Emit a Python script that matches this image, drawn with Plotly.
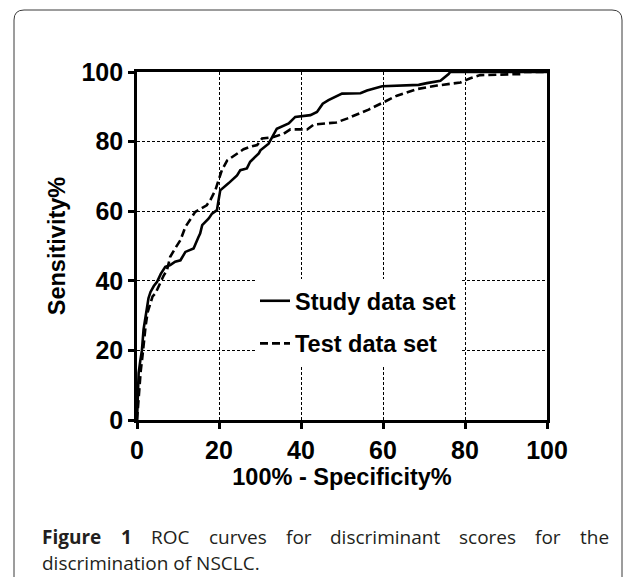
import plotly.graph_objects as go

# ---- data ----
study_fpr = [0, 0.1, 0.2, 0.4, 0.8, 1.2, 1.6, 2.2, 2.8, 3.3, 4.1, 4.9, 5.8, 6.9, 8.1, 9.3, 10.6,
             11.8, 13.8, 15.0, 15.4, 15.9, 17.5, 18.3, 19.5, 19.9, 20.3, 22.3, 24.4, 25.2, 26.8,
             27.6, 29.7, 30.1, 32.1, 34.1, 37.0, 38.6, 42.3, 43.9, 45.3, 46.7, 50.0, 54.5, 56.1,
             59.8, 68.7, 70.7, 74.0, 76.0, 76.4, 100]
study_tpr = [0, 5, 10.6, 13.5, 17, 20, 26, 30, 35, 36.8, 38.5, 39.7, 42, 44, 44.5, 45.5, 45.9,
             48.3, 49.3, 52.6, 53.6, 56, 57.9, 59.3, 60.3, 63.2, 66, 68, 70.3, 71.8, 72.3,
             74.2, 76.6, 77.5, 79.4, 83.7, 85.2, 87.1, 87.6, 88.5, 90.9, 91.9, 93.8, 93.9, 94.7,
             95.9, 96.3, 96.8, 97.5, 99.4, 100, 100]

test_fpr = [0, 0.3, 0.6, 0.9, 1.3, 1.6, 2.1, 2.6, 3.2, 3.8, 4.5, 5.7, 6.5, 7.3, 8.1, 9.3, 10.6,
            11.8, 14.2, 17.0, 17.9, 19.1, 19.9, 20.7, 22.0, 24.4, 26.0, 27.6, 29.3, 30.5, 33.3,
            35.8, 37.4, 41.5, 43.1, 48.6, 51.2, 56.5, 59.8, 63.4, 68.3, 73.2, 78.9, 81.3, 83.7,
            93.8, 94.5, 100]
test_tpr = [0, 5, 10, 14, 18, 22, 27, 31, 33.5, 35.5, 36.4, 39.7, 41.5, 43, 46.9, 49.3, 51.7,
            55.5, 59.8, 61.7, 63.2, 66, 68.9, 71.8, 74.6, 76.6, 77.8, 78.5, 79, 80.9, 81.3,
            82.3, 83.5, 83.5, 84.9, 85.5, 86.6, 89.2, 91.1, 93.2, 95.1, 96.1, 97, 98.2, 99.1,
            99.4, 100, 100]

series_names = ["Study data set", "Test data set"]
axis_ticks = [0, 20, 40, 60, 80, 100]
caption_line1 = [("Figure", True), ("1", True), ("ROC", False), ("curves", False), ("for", False),
                 ("discriminant", False), ("scores", False), ("for", False), ("the", False)]
caption_line2 = "discrimination of NSCLC."

# page body has an 8px margin, so figure pixel = screen pixel - 8
OFF = 8
W, H = 633 - OFF, 577 - OFF
L, R, T, B = 137 - OFF, 547 - OFF, 72 - OFF, 420 - OFF


def px(x):
    """screen pixel x -> paper coordinate"""
    return (x - OFF - L) / (R - L)


def py(y):
    """screen pixel y -> paper coordinate"""
    return (B - (y - OFF)) / (B - T)


fig = go.Figure()
fig.add_trace(go.Scatter(x=study_fpr, y=study_tpr, mode="lines", name=series_names[0],
                         legendgroup="a",
                         line=dict(color="black", width=2.6)))
fig.add_trace(go.Scatter(x=test_fpr, y=test_tpr, mode="lines", name=series_names[1],
                         legendgroup="b",
                         line=dict(color="black", width=2.6, dash="8px,4px")))

tickfont = dict(family="Liberation Sans, Arial", size=25, color="black", weight="bold")
titlefont = dict(family="Liberation Sans, Arial", size=23.5, color="black", weight="bold")

axis_common = dict(
    range=[0, 100], tickvals=axis_ticks, ticktext=[str(v) for v in axis_ticks],
    showline=True, linecolor="black", linewidth=2.6, mirror=True,
    ticks="outside", ticklen=6, tickwidth=2.6, tickcolor="black",
    showgrid=True, gridcolor="black", gridwidth=1, griddash="3px,2px",
    zeroline=False, tickfont=tickfont,
)

fig.update_layout(
    width=W, height=H, autosize=False,
    margin=dict(l=L, r=W - R, t=T, b=H - B),
    paper_bgcolor="white", plot_bgcolor="white",
    xaxis=dict(axis_common, title=dict(text="100% - Specificity%", font=titlefont, standoff=5)),
    yaxis=dict(axis_common, title=dict(text="Sensitivity%", font=titlefont, standoff=10)),
    showlegend=True,
    legend=dict(x=px(255), y=py(279), xanchor="left", yanchor="top",
                bgcolor="white", borderwidth=0, tracegroupgap=9,
                traceorder="grouped",
                font=dict(family="Liberation Sans, Arial", size=23.5, color="black", weight="bold")),
)

# rounded frame around the figure panel
rx, ry = 10 / (R - L), 10 / (B - T)
x0, x1, y0, y1 = px(14), px(622), py(10), py(600)
path = (f"M {x0},{y1} L {x0},{y0 - ry} Q {x0},{y0} {x0 + rx},{y0} "
        f"L {x1 - rx},{y0} Q {x1},{y0} {x1},{y0 - ry} L {x1},{y1}")
fig.add_shape(type="path", path=path, xref="paper", yref="paper",
              line=dict(color="#3a3a3a", width=1))

# caption: justify line 1 by distributing word gaps (approx. Open Sans widths, em units)
EM = {'a': .556, 'b': .613, 'c': .476, 'd': .613, 'e': .561, 'f': .339, 'g': .548, 'h': .614,
      'i': .253, 'l': .253, 'm': .930, 'n': .614, 'o': .604, 'r': .408, 's': .477, 't': .353,
      'u': .614, 'v': .501, 'y': .501, 'C': .634, 'L': .510, 'N': .759, 'O': .781, 'R': .629,
      'S': .537, 'F': .531, '1': .572, '.': .266}
CAP_SIZE = 19
cap_color = "#231f20"


def word_width(w, bold):
    return sum(EM.get(ch, .56) for ch in w) * CAP_SIZE * (1.08 if bold else 1.0)


left_px, right_px = 40, 607
widths = [word_width(w, b) for w, b in caption_line1]
gap = (right_px - left_px - sum(widths)) / (len(widths) - 1)
xcur = left_px
for (word, bold), wdt in zip(caption_line1, widths):
    fig.add_annotation(text=f"<b>{word}</b>" if bold else word, x=px(xcur), y=py(537),
                       xref="paper", yref="paper", xanchor="left", yanchor="middle",
                       showarrow=False,
                       font=dict(family="Open Sans", size=CAP_SIZE, color=cap_color))
    xcur += wdt + gap
fig.add_annotation(text=caption_line2, x=px(40), y=py(563), xref="paper", yref="paper",
                   xanchor="left", yanchor="middle", showarrow=False,
                   font=dict(family="Open Sans", size=CAP_SIZE, color=cap_color))

fig.write_html("out.html")
